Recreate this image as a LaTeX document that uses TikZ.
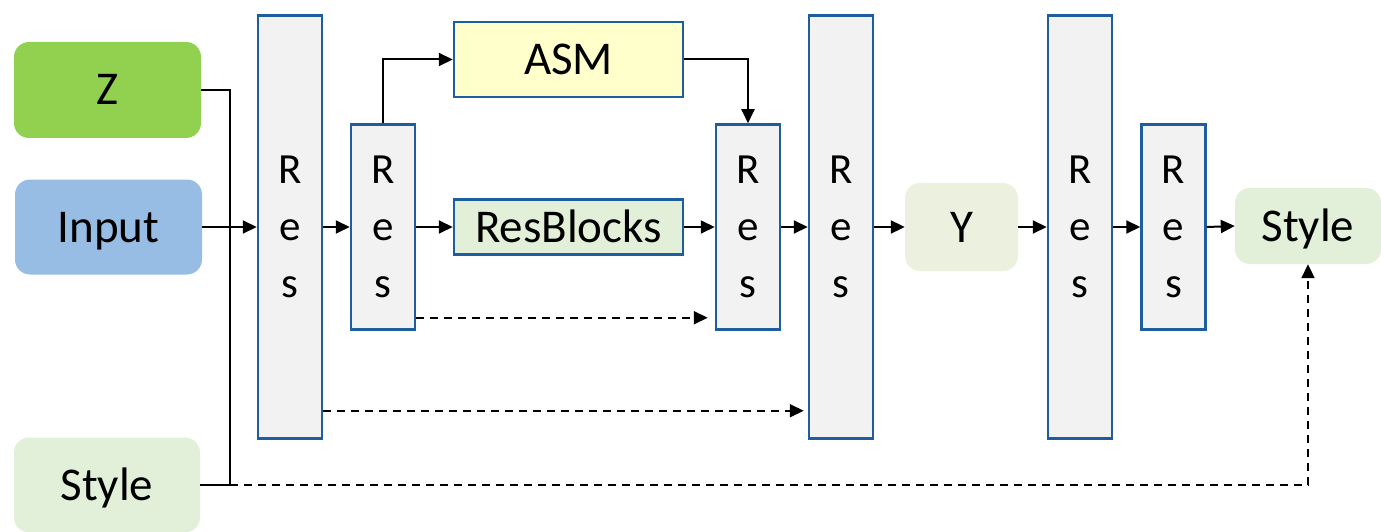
\documentclass[tikz,border=0pt]{standalone}
\usepackage{fontspec}
\setmainfont{Carlito}
\usetikzlibrary{arrows.meta}
\definecolor{zgreen}{HTML}{92D050}
\definecolor{inblue}{HTML}{97BDE5}
\definecolor{palegreen}{HTML}{E2F0D9}
\definecolor{ygreen}{HTML}{EBF1DE}
\definecolor{asmyellow}{HTML}{FFFFCC}
\definecolor{resfill}{HTML}{F2F2F2}
\definecolor{resborder}{HTML}{1F5E9E}
\tikzset{
  x=1pt, y=-1pt,
  rbox/.style={rectangle, rounded corners=15pt, inner sep=0pt, text=black,
    font=\fontsize{47}{52}\selectfont, text height=30pt, text depth=0pt},
  resbox/.style={rectangle, draw=resborder, line width=2.5pt, fill=resfill,
    inner sep=0pt, minimum width=64pt, align=center,
    font=\fontsize{43}{57}\selectfont},
  sqbox/.style={rectangle, draw=resborder, line width=2.5pt, inner sep=0pt,
    minimum width=229pt, font=\fontsize{47}{52}\selectfont,
    text height=30pt, text depth=0pt},
  conn/.style={line width=2pt, -{Triangle[length=14pt,width=13pt]}},
  plain/.style={line width=2pt},
  dconn/.style={line width=2pt, dash pattern=on 8pt off 6pt,
    -{Triangle[length=14pt,width=13pt]}},
}
\begin{document}
\begin{tikzpicture}
\useasboundingbox (0,0) rectangle (1381,532);

% inputs on the left
\node[rbox, fill=zgreen, minimum width=187pt, minimum height=96pt] (Z) at (107.5,90) {Z};
\node[rbox, fill=inblue, minimum width=187pt, minimum height=95pt] (In) at (108.5,227) {Input};
\node[rbox, fill=palegreen, minimum width=186pt, minimum height=95pt] (StL) at (107,485) {Style};

% residual stages
\node[resbox, minimum height=423pt] (R1) at (290,227) {R\\e\\s};
\node[resbox, minimum height=205pt] (R2) at (383,227) {R\\e\\s};
\node[resbox, minimum height=205pt] (R3) at (748,227) {R\\e\\s};
\node[resbox, minimum height=423pt] (R4) at (841,227) {R\\e\\s};
\node[resbox, minimum height=423pt] (R5) at (1080,227) {R\\e\\s};
\node[resbox, minimum height=205pt] (R6) at (1173.5,227) {R\\e\\s};

% middle branch blocks
\node[sqbox, fill=asmyellow, minimum height=75pt] (ASM) at (568.5,59.5) {ASM};
\node[sqbox, fill=palegreen, minimum height=55pt] (RB) at (568.5,227) {ResBlocks};

% latent and output
\node[rbox, fill=ygreen, minimum width=113pt, minimum height=88pt] (Y) at (961.5,227) {Y};
\node[rbox, fill=palegreen, minimum width=146pt, minimum height=76pt] (StR) at (1308,226) {Style};

% Z and style join into one line
\coordinate (J) at (230,485);
\draw[plain] (Z.east) -| (J) -- (StL.east);
\draw[dconn] (J) -| (StR.south);

% main path
\draw[conn] (In.east) -- (R1.west);
\draw[conn] (R1.east) -- (R2.west);
\draw[conn] (R2.east) -- (RB.west);
\draw[conn] (RB.east) -- (R3.west);
\draw[conn] (R3.east) -- (R4.west);
\draw[conn] (R4.east) -- (Y.west);
\draw[conn] (Y.east) -- (R5.west);
\draw[conn] (R5.east) -- (R6.west);
\draw[conn] (R6.east) -- (StR.west);

% attention branch
\draw[conn] (R2.north) |- (ASM.west);
\draw[conn] (ASM.east) -| (R3.north);

% skip connections
\draw[dconn] ([yshift=13pt]R2.south east) -- ([yshift=13pt,xshift=-7pt]R3.south west);
\draw[dconn] ([yshift=29pt]R1.south east) -- ([yshift=29pt,xshift=-4pt]R4.south west);
\end{tikzpicture}
\end{document}
